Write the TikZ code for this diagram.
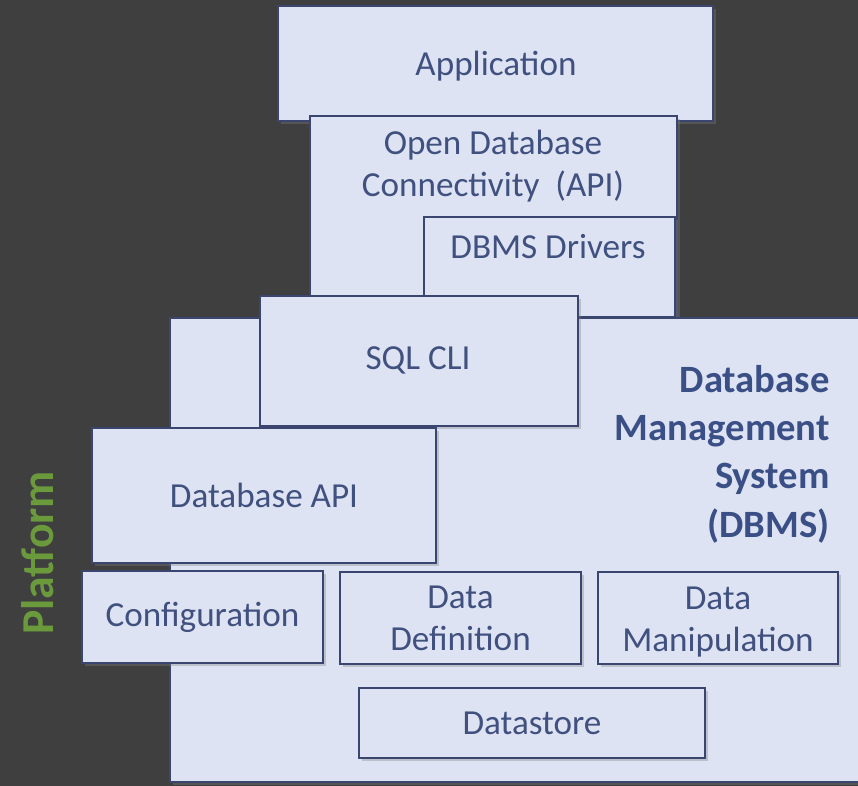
\documentclass[tikz,border=0pt]{standalone}
\usepackage{fontspec}
\setmainfont{Carlito}
\usetikzlibrary{fit,shadows}

\definecolor{slate}{HTML}{3F3F3F}
\definecolor{layerfill}{HTML}{DDE3F2}
\definecolor{layerline}{HTML}{3A4570}
\definecolor{layertext}{HTML}{40507F}
\definecolor{dbmstext}{HTML}{3A4F86}
\definecolor{leaf}{HTML}{6B9A3C}

\begin{document}
\begin{tikzpicture}[x=0.02cm, y=-0.02cm,
    layer/.style={draw=layerline, line width=0.8pt, fill=layerfill, inner sep=0pt,
        drop shadow={opacity=0.35, shadow xshift=1.5pt, shadow yshift=-1.5pt}},
    caption/.style={text=layertext, align=center, inner sep=0pt,
        font=\fontsize{20}{24}\selectfont}]

    % Фон
    \fill[slate] (0,0) rectangle (858,786);
    \useasboundingbox (0,0) rectangle (858,786);
    \clip (0,0) rectangle (858,786);

    % Верхние слои
    \node[layer, fit={(278,6) (713,121)}] (app) {};
    \node[caption] (apptext) at (496,66) {Application};
    \node[layer, fit={(310,116) (677,317)}] (odbc) {};
    \node[caption] (odbctext) at (493,166) {Open Database\\Connectivity\ \ (API)};
    \node[layer, fit={(424,217) (675,317)}] (drivers) {};
    \node[caption] (driverstext) at (548,247) {DBMS Drivers};

    % СУБД
    \node[layer, fit={(170,318) (870,782)}] (dbms) {};
    \node[text=dbmstext, align=right, anchor=east, inner sep=0pt,
        font=\bfseries\fontsize{22}{27.5}\selectfont] (dbmslabel) at (830,454)
        {Database\\Management\\System\\(DBMS)};

    \node[layer, fit={(260,296) (578,426)}] (sqlcli) {};
    \node[caption] (sqlclitext) at (418,360) {SQL CLI};
    \node[layer, fit={(92,428) (436,563)}] (dbapi) {};
    \node[caption] (dbapitext) at (dbapi) {Database API};

    % Нижний ряд
    \node[layer, fit={(82,571) (323,663)}] (config) {};
    \node[caption] (configtext) at (config) {Configuration};
    \node[layer, fit={(340,572) (581,664)}] (datadef) {};
    \node[caption] (datadeftext) at (datadef) {Data\\Definition};
    \node[layer, fit={(598,572) (838,664)}] (datamanip) {};
    \node[caption] (datamaniptext) at (718,622) {Data\\Manipulation};
    \node[layer, fit={(359,688) (705,758)}] (datastore) {};
    \node[caption] (datastoretext) at (datastore) {Datastore};

    % Подпись платформы
    \node[rotate=90, text=leaf, inner sep=0pt,
        font=\bfseries\fontsize{26}{30}\selectfont] (platform) at (38,553) {Platform};
\end{tikzpicture}
\end{document}
